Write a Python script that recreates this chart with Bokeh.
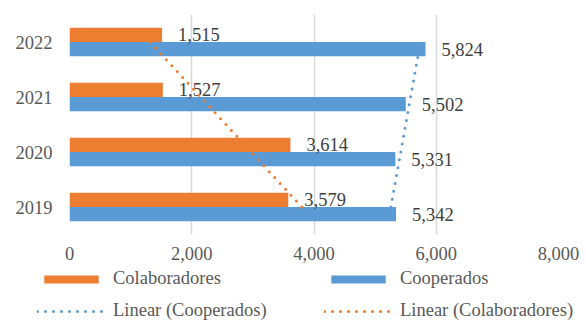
import numpy as np
from bokeh.plotting import figure
from bokeh.layouts import column
from bokeh.models import (Range1d, FactorRange, FixedTicker, NumeralTickFormatter,
                          ColumnDataSource, Legend, LegendItem)
from bokeh.transform import dodge
from bokeh.core.properties import value
from bokeh.embed import file_html
from bokeh.resources import INLINE

# Data
years = ["2019", "2020", "2021", "2022"]
colaboradores = [3579, 3614, 1527, 1515]
cooperados = [5342, 5331, 5502, 5824]
x_ticks = [0, 2000, 4000, 6000, 8000]

ORANGE = "#ED7D31"
BLUE = "#5B9BD5"
FONT = "Liberation Serif"
FONT_SIZE = "18.5px"
AXIS_TEXT = "#595959"
LABEL_TEXT = "#404040"

# Least-squares linear trend over the category index (1..n)
idx = np.arange(1, len(years) + 1)
col_trend = np.polyval(np.polyfit(idx, colaboradores, 1), idx)
coop_trend = np.polyval(np.polyfit(idx, cooperados, 1), idx)

src = ColumnDataSource(dict(
    year=years,
    col=colaboradores,
    coop=cooperados,
    col_lbl=[f"{v:,}" for v in colaboradores],
    coop_lbl=[f"{v:,}" for v in cooperados],
))

p = figure(width=586, height=268,
           y_range=FactorRange(*years), x_range=Range1d(0, 8000),
           output_backend="svg", toolbar_location=None,
           min_border_left=69, min_border_right=28,
           min_border_top=14, min_border_bottom=34, frame_align=False)
p.outline_line_color = None

bar_h = 0.258
r_col = p.hbar(y=dodge("year", bar_h / 2, range=p.y_range), left=0, right="col",
               height=bar_h, fill_color=ORANGE, line_color=None, source=src)
r_coop = p.hbar(y=dodge("year", -bar_h / 2, range=p.y_range), left=0, right="coop",
                height=bar_h, fill_color=BLUE, line_color=None, source=src)

# Value labels just past the end of each bar
p.text(x="col", y=dodge("year", bar_h / 2, range=p.y_range), text="col_lbl",
       x_offset=16, text_align="left", text_baseline="middle",
       text_font=value(FONT), text_font_size=FONT_SIZE, text_color=LABEL_TEXT, source=src)
p.text(x="coop", y=dodge("year", -bar_h / 2, range=p.y_range), text="coop_lbl",
       x_offset=16, text_align="left", text_baseline="middle",
       text_font=value(FONT), text_font_size=FONT_SIZE, text_color=LABEL_TEXT, source=src)

# Dotted linear trend lines
trend_style = dict(line_width=3, line_dash="0 8", line_cap="round")
p.line(x=list(coop_trend), y=years, line_color=BLUE, **trend_style)
p.line(x=list(col_trend), y=years, line_color=ORANGE, **trend_style)

# Axes and grid
p.xaxis.ticker = FixedTicker(ticks=x_ticks)
p.xaxis.formatter = NumeralTickFormatter(format="0,0")
for ax in (p.xaxis, p.yaxis):
    ax.axis_line_color = None
    ax.major_tick_line_color = None
    ax.minor_tick_line_color = None
    ax.major_tick_out = 0
    ax.major_tick_in = 0
    ax.major_label_text_font = FONT
    ax.major_label_text_font_size = FONT_SIZE
    ax.major_label_text_color = AXIS_TEXT
p.xaxis.major_label_standoff = 12
p.yaxis.major_label_standoff = 17
p.xgrid.grid_line_color = "#D9D9D9"
p.xgrid.grid_line_width = 1.5
p.ygrid.grid_line_color = None

# Legend strip below the chart; its key glyphs sit outside the visible range
lg = figure(width=586, height=52, output_backend="svg", toolbar_location=None,
            x_axis_type=None, y_axis_type=None, min_border=0, frame_align=False,
            x_range=Range1d(0, 1), y_range=Range1d(0, 1))
lg.outline_line_color = None
lg.xgrid.visible = False
lg.ygrid.visible = False
k_col = lg.hbar(y=[-5], left=[0], right=[1], height=1, fill_color=ORANGE, line_color=None)
k_coop = lg.hbar(y=[-5], left=[0], right=[1], height=1, fill_color=BLUE, line_color=None)
k_tcoop = lg.line(x=[0, 1], y=[-5, -5], line_color=BLUE, **trend_style)
k_tcol = lg.line(x=[0, 1], y=[-5, -5], line_color=ORANGE, **trend_style)


def make_legend(items, loc):
    return Legend(items=items, location=loc, orientation="horizontal",
                  glyph_width=68, glyph_height=10, label_standoff=8,
                  label_width=211, label_height=20, spacing=0, padding=0, margin=0,
                  border_line_color=None, background_fill_alpha=0,
                  label_text_font=FONT, label_text_font_size=FONT_SIZE,
                  label_text_color=AXIS_TEXT)


lg.add_layout(make_legend([LegendItem(label="Colaboradores", renderers=[k_col]),
                           LegendItem(label="Cooperados", renderers=[k_coop])], (37, 31)))
lg.add_layout(make_legend([LegendItem(label="Linear (Cooperados)", renderers=[k_tcoop]),
                           LegendItem(label="Linear (Colaboradores)", renderers=[k_tcol])], (37, -1)))

layout = column(p, lg, spacing=0)
open("out.html", "w").write(file_html(layout, INLINE))
